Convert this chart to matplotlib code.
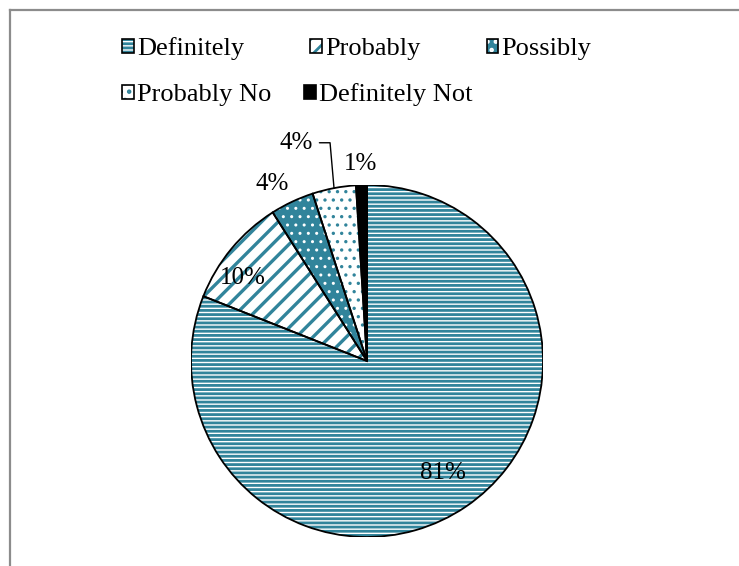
import matplotlib.pyplot as plt
import numpy as np
from matplotlib.patches import Patch, Wedge
from matplotlib.lines import Line2D
from matplotlib.legend_handler import HandlerTuple

plt.rcParams['font.family'] = ['Liberation Serif', 'DejaVu Serif']
plt.rcParams['hatch.linewidth'] = 2.0

labels = ['Definitely', 'Probably', 'Possibly', 'Probably No', 'Definitely Not']
values = [81, 10, 4, 4, 1]

TEAL = '#31849B'
faces = ['white', 'white', TEAL, 'white', 'black']
hatch_colors = [TEAL, TEAL, 'white', TEAL, 'black']
hatches = ['----', '//', '..', '..', None]
hatch_lw = [2.0, 2.4, 1.0, 1.2, 1.0]


def set_hlw(p, lw):
    # per-patch hatch width where matplotlib supports it
    if hasattr(p, 'set_hatch_linewidth'):
        p.set_hatch_linewidth(lw)


fig = plt.figure(figsize=(7.39, 5.66), dpi=100)

# chart frame (right/bottom edge cut off in the reference)
fig.add_artist(Line2D([10 / 739, 1], [1 - 10 / 566, 1 - 10 / 566],
                      color='#8c8c8c', lw=1.6, transform=fig.transFigure))
fig.add_artist(Line2D([10 / 739, 10 / 739], [0, 1 - 10 / 566],
                      color='#8c8c8c', lw=1.6, transform=fig.transFigure))

# pie axes: centre (367, 361) px, radius 176 px
r_px = 176
ax = fig.add_axes([(367 - r_px) / 739, (566 - 361 - r_px) / 566,
                   2 * r_px / 739, 2 * r_px / 566])

# base fill
wedges, _ = ax.pie(values, startangle=90, counterclock=False,
                   colors=faces, wedgeprops=dict(linewidth=0))
# hatch overlay
for w, hc, h, hl in zip(wedges, hatch_colors, hatches, hatch_lw):
    if h is None:
        continue
    hp = Wedge(w.center, w.r, w.theta1, w.theta2, facecolor='none',
               edgecolor=hc, hatch=h, linewidth=0)
    set_hlw(hp, hl)
    ax.add_patch(hp)
# outlines
for w in wedges:
    ax.add_patch(Wedge(w.center, w.r, w.theta1, w.theta2, facecolor='none',
                       edgecolor='black', linewidth=1.3))

ax.set_xlim(-1, 1)
ax.set_ylim(-1, 1)
ax.set_aspect('equal')

# percent labels
dist = [0.77, 0.85, 1.14, None, 1.12]
shift = [0, 6, 3, 0, 0]
fs = 18
for w, v, d, s in zip(wedges, values, dist, shift):
    mid = np.deg2rad((w.theta1 + w.theta2) / 2 + s)
    if d is None:
        # leader-lined label
        ax.annotate(f'{v}%', xy=(np.cos(mid), np.sin(mid)),
                    xytext=(-0.31, 1.24), ha='right', va='center',
                    fontsize=fs, annotation_clip=False,
                    arrowprops=dict(arrowstyle='-', lw=1.0, color='black',
                                    connectionstyle='angle,angleA=0,angleB=95,rad=0',
                                    shrinkA=3, shrinkB=0))
        continue
    ax.text(d * np.cos(mid), d * np.sin(mid), f'{v}%', ha='center',
            va='center', fontsize=fs, clip_on=False)

# legend handles: fill, hatch, outline stacked
handles = []
for f, hc, h in zip(faces, hatch_colors, hatches):
    parts = [Patch(facecolor=f, edgecolor='none', linewidth=0)]
    if h is not None:
        hp = Patch(facecolor='none', edgecolor=hc, hatch=h, linewidth=0)
        set_hlw(hp, 1.0)
        parts.append(hp)
    parts.append(Patch(facecolor='none', edgecolor='black', linewidth=1.2))
    handles.append(tuple(parts))

lfs = 19
rows = [([0, 1, 2], 49, 2.5), ([3, 4], 95, 1.25)]
for idx, y, cs in rows:
    fig.legend([handles[i] for i in idx], [labels[i] for i in idx],
               handler_map={tuple: HandlerTuple(ndivide=1, pad=0)},
               ncol=len(idx), loc='center left',
               bbox_to_anchor=(122 / 739, 1 - y / 566),
               frameon=False, fontsize=lfs, handlelength=0.45,
               handleheight=0.45, handletextpad=0.12, columnspacing=cs,
               borderpad=0, borderaxespad=0)

fig.savefig('out.png', dpi=100)
